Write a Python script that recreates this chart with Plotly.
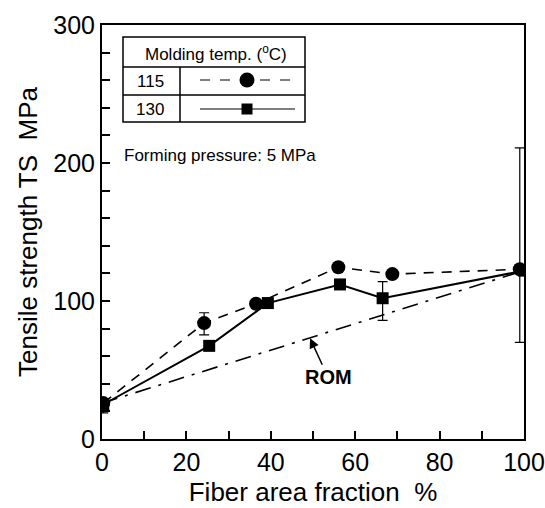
import plotly.graph_objects as go

# ---- data ----
x115 = [0.3, 24.2, 36.5, 56.0, 68.8, 99.0]
y115 = [26, 84, 98, 124.5, 119.5, 123]
e115_plus = [0, 7.5, 0, 0, 0, 88]
e115_minus = [0, 8.5, 0, 0, 0, 53]

x130 = [0.3, 25.4, 39.3, 56.4, 66.5, 100]
y130 = [25, 67.5, 98.5, 112, 102, 122]
e130_plus = [0, 0, 0, 0, 12, 0]
e130_minus = [6, 0, 0, 0, 16, 0]

rom_x = [0, 100]
rom_y = [26, 122]

xtick_vals = [0, 20, 40, 60, 80, 100]
xtick_text = ["0", "20", "40", "60", "80", "100"]
ytick_vals = [0, 100, 200, 300]
ytick_text = ["0", "100", "200", "300"]

FONT = "Liberation Sans, Arial, sans-serif"
SP = "\u00a0"

fig = go.Figure()

fig.add_trace(go.Scatter(
    x=rom_x, y=rom_y, mode="lines",
    line=dict(color="black", width=1.6, dash="16px,8px,3px,8px"),
    showlegend=False))

fig.add_trace(go.Scatter(
    x=x115, y=y115, mode="lines+markers",
    line=dict(color="black", width=1.6, dash="10px,8px"),
    marker=dict(symbol="circle", size=14, color="black"),
    error_y=dict(type="data", symmetric=False, array=e115_plus, arrayminus=e115_minus,
                 color="black", thickness=1.2, width=5),
    showlegend=False))

fig.add_trace(go.Scatter(
    x=x130, y=y130, mode="lines+markers",
    line=dict(color="black", width=2),
    marker=dict(symbol="square", size=12, color="black"),
    error_y=dict(type="data", symmetric=False, array=e130_plus, arrayminus=e130_minus,
                 color="black", thickness=1.2, width=5),
    showlegend=False))

# ---- legend table (pixel overlay axes) ----
fig.add_trace(go.Scatter(
    x=[200, 291], y=[80, 80], mode="lines",
    line=dict(color="black", width=1.2, dash="10px,10px"),
    xaxis="x2", yaxis="y2", showlegend=False, hoverinfo="skip"))
fig.add_trace(go.Scatter(
    x=[247], y=[80], mode="markers",
    marker=dict(symbol="circle", size=15, color="black"),
    xaxis="x2", yaxis="y2", showlegend=False, hoverinfo="skip"))
fig.add_trace(go.Scatter(
    x=[200, 295], y=[109, 109], mode="lines",
    line=dict(color="black", width=1.2),
    xaxis="x2", yaxis="y2", showlegend=False, hoverinfo="skip"))
fig.add_trace(go.Scatter(
    x=[247], y=[109], mode="markers",
    marker=dict(symbol="square", size=11, color="black"),
    xaxis="x2", yaxis="y2", showlegend=False, hoverinfo="skip"))

shapes = []
lw = 1.5
shapes.append(dict(type="rect", xref="x2", yref="y2", x0=123, x1=305, y0=37, y1=122,
                   line=dict(color="black", width=lw)))
for yy in (67, 95):
    shapes.append(dict(type="line", xref="x2", yref="y2", x0=123, x1=305, y0=yy, y1=yy,
                       line=dict(color="black", width=lw)))
shapes.append(dict(type="line", xref="x2", yref="y2", x0=180, x1=180, y0=67, y1=122,
                   line=dict(color="black", width=lw)))

annotations = [
    dict(xref="x2", yref="y2", x=216, y=53, text="Molding temp. (<sup>o</sup>C)",
         showarrow=False, font=dict(family=FONT, size=17, color="black")),
    dict(xref="x2", yref="y2", x=150, y=81, text="115",
         showarrow=False, font=dict(family=FONT, size=17, color="black")),
    dict(xref="x2", yref="y2", x=150, y=109, text="130",
         showarrow=False, font=dict(family=FONT, size=17, color="black")),
    dict(xref="x2", yref="y2", x=122, y=155, text="Forming pressure: 5 MPa", xanchor="left",
         showarrow=False, font=dict(family=FONT, size=17, color="black")),
    dict(xref="x", yref="y", x=49.3, y=73, text="<b>ROM</b>", ax=18, ay=39,
         showarrow=True, arrowhead=2, arrowsize=1.3, arrowwidth=1.5, arrowcolor="black",
         standoff=0, font=dict(family=FONT, size=20, color="black")),
]

fig.update_layout(
    width=545, height=508,
    margin=dict(l=102, r=21, t=25, b=69, autoexpand=False),
    paper_bgcolor="white", plot_bgcolor="white",
    font=dict(family=FONT, size=25, color="black"),
    shapes=shapes, annotations=annotations, showlegend=False,
    xaxis=dict(range=[0, 100], tickvals=xtick_vals, ticktext=xtick_text,
               ticks="inside", ticklen=8, tickwidth=1.5, tickcolor="black",
               minor=dict(dtick=10, tick0=0, ticks="inside", ticklen=8, tickwidth=1.5,
                          tickcolor="black", showgrid=False),
               showline=True, linecolor="black", linewidth=2, mirror=True,
               showgrid=False, zeroline=False, automargin=False,
               tickfont=dict(family=FONT, size=25),
               title=dict(text="Fiber area fraction" + SP + SP + "%", standoff=8,
                          font=dict(family=FONT, size=26))),
    yaxis=dict(range=[0, 300], tickvals=ytick_vals, ticktext=ytick_text,
               ticks="inside", ticklen=8, tickwidth=1.5, tickcolor="black",
               minor=dict(dtick=20, tick0=0, ticks="inside", ticklen=8, tickwidth=1.5,
                          tickcolor="black", showgrid=False),
               showline=True, linecolor="black", linewidth=2, mirror=True,
               showgrid=False, zeroline=False, automargin=False,
               tickfont=dict(family=FONT, size=25),
               title=dict(text="Tensile strength TS" + SP + SP + "MPa", standoff=8,
                          font=dict(family=FONT, size=26))),
    xaxis2=dict(range=[102, 524], overlaying="x", visible=False, fixedrange=True),
    yaxis2=dict(range=[439, 25], overlaying="y", visible=False, fixedrange=True),
)

fig.write_html("out.html")
